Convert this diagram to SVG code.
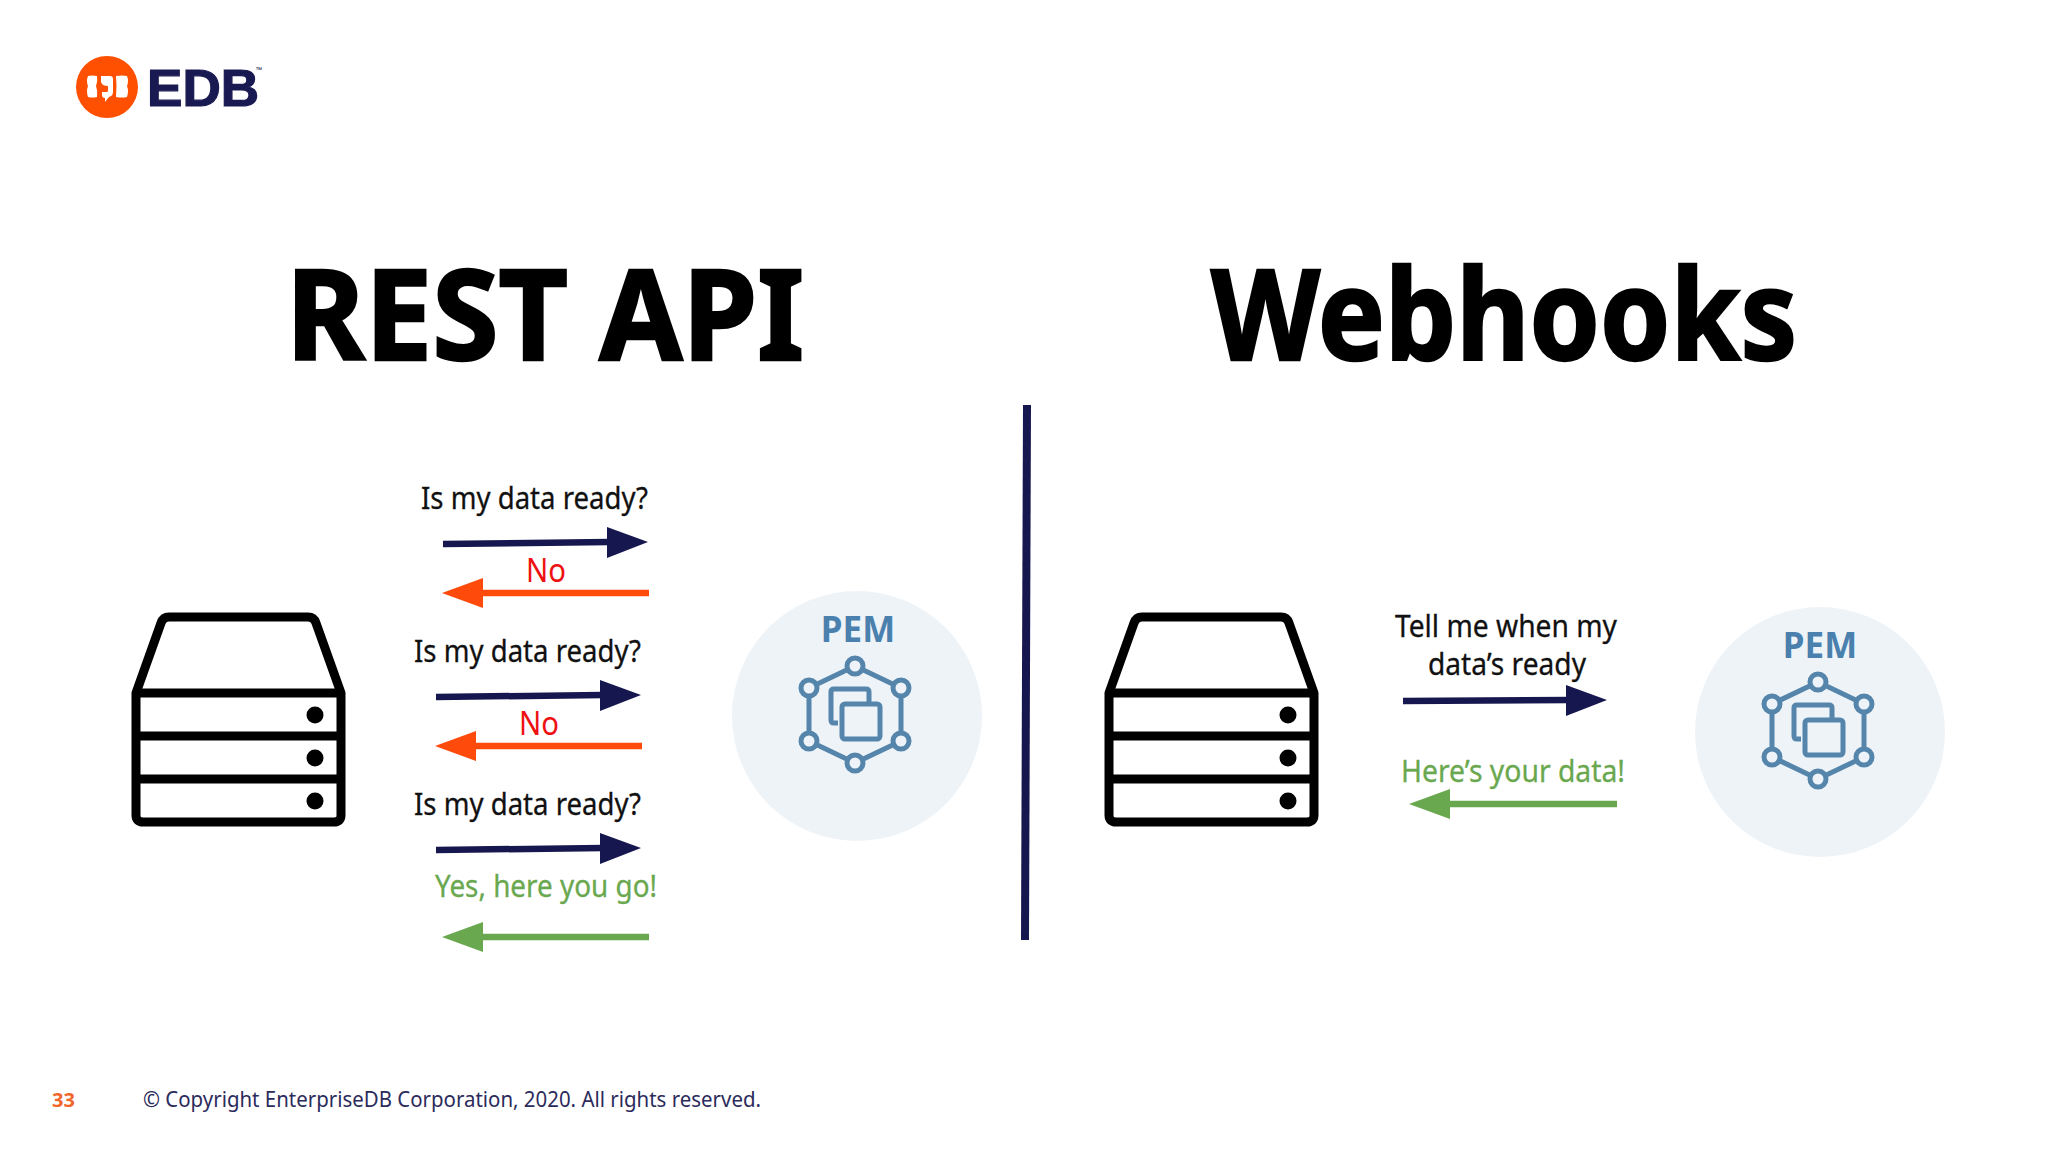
<svg xmlns="http://www.w3.org/2000/svg" xmlns:xlink="http://www.w3.org/1999/xlink" width="2048" height="1152" viewBox="0 0 2048 1152">
<style>
text{font-family:"Noto Sans","Open Sans","Liberation Sans",sans-serif}
.title{font-size:126px;font-weight:700;fill:#000;stroke:#000;stroke-width:2.5}
.lbl{font-size:31px;fill:#111;stroke:#111;stroke-width:.3}
.no{font-size:33px;fill:#ee1111}
.ok{font-size:31px;fill:#6aa84f;stroke:#6aa84f;stroke-width:.3}
.pem{font-size:35px;font-weight:700;fill:#4a80ad;text-anchor:middle}
.foot{font-size:22px;fill:#2b2b5c}
.srv{fill:none;stroke:#000;stroke-width:9;stroke-linejoin:round}
.ic{fill:none;stroke:#5585ab;stroke-width:5;stroke-linejoin:round}
.nd{fill:#edf3f9;stroke:#5585ab;stroke-width:5}
.ln{fill:none;stroke-width:6.5}
.navy{stroke:#17174f}.navyf{fill:#17174f}
.red{stroke:#fe4a0b}.redf{fill:#fe4a0b}
.grn{stroke:#6aa84f}.grnf{fill:#6aa84f}
</style>
<defs>
<g id="server">
<path class="srv" d="M136 693L136 815Q136 822 143 822L334 822Q341 822 341 815L341 693L316 623Q314 617 308 617L169 617Q163 617 161 623Z"/>
<path class="srv" d="M136 693H341M136 736H341M136 779H341"/>
<circle cx="315" cy="715" r="8.5"/><circle cx="315" cy="758" r="8.5"/><circle cx="315" cy="801" r="8.5"/>
</g>
<g id="pemicon">
<circle cx="857" cy="716" r="125" fill="#eef3f8"/>
<path class="ic" d="M855 666L901 688V741L855 763L809 741V688Z"/>
<path class="ic" d="M838 723H834Q831 723 831 720V692Q831 689 834 689H866Q869 689 869 692V704"/>
<rect class="ic" x="842" y="704" width="38" height="35" rx="3"/>
<circle class="nd" cx="855" cy="666" r="8"/><circle class="nd" cx="901" cy="688" r="8"/><circle class="nd" cx="901" cy="741" r="8"/><circle class="nd" cx="855" cy="763" r="8"/><circle class="nd" cx="809" cy="741" r="8"/><circle class="nd" cx="809" cy="688" r="8"/>
</g>
</defs>
<rect width="2048" height="1152" fill="#fff"/>
<g id="logo">
<circle cx="107" cy="87" r="31" fill="#fe5000"/>
<path fill="#fff" d="M88 76q4-1 9 0q1 5-1 10q2 5 1 11q-5 1-9 0q-2-6 0-11q-2-5 0-10Z"/>
<path fill="#fff" d="M101 76h9q3 0 3 3v13q0 4-4 5l-4 5v-4q-3 0-3-3v-3h5q1 0 1-2v-4q-6 0-7-4Z"/>
<path fill="#fff" d="M116 76q6-1 11 0q2 5 0 10q2 5 0 11q-5 1-11 0q1-11 0-21Z"/>
<text x="147" y="106" font-size="52" font-weight="700" fill="#1a1a52" stroke="#1a1a52" stroke-width="1.2" style="font-family:'Liberation Sans',sans-serif" textLength="112" lengthAdjust="spacingAndGlyphs">EDB</text>
<text x="256" y="73" font-size="8" fill="#1a1a52">™</text>
</g>
<text class="title" x="286" y="360" textLength="518" lengthAdjust="spacingAndGlyphs">REST API</text>
<text class="title" x="1211" y="360" textLength="586" lengthAdjust="spacingAndGlyphs">Webhooks</text>
<g id="server-left"><use xlink:href="#server" href="#server"/></g>
<g id="server-right"><use xlink:href="#server" href="#server" x="973"/></g>
<g id="pem-left"><use xlink:href="#pemicon" href="#pemicon"/><text class="pem" x="858" y="642">PEM</text></g>
<g id="pem-right"><use xlink:href="#pemicon" href="#pemicon" x="963" y="16"/><text class="pem" x="1820" y="658">PEM</text></g>
<g id="connectors">
<path class="ln navy" d="M1027 405L1025 940" style="stroke-width:8"/>
<path class="ln navy" d="M443 544L610 542"/><path class="navyf" d="M607 527L648 542L607 558Z"/>
<path class="ln red" d="M649 593H480"/><path class="redf" d="M442 593L483 578V608Z"/>
<path class="ln navy" d="M436 697L603 695"/><path class="navyf" d="M600 680L641 695L600 711Z"/>
<path class="ln red" d="M642 746H473"/><path class="redf" d="M435 746L476 731V761Z"/>
<path class="ln navy" d="M436 850L603 848"/><path class="navyf" d="M600 833L641 848L600 864Z"/>
<path class="ln grn" d="M649 937H480"/><path class="grnf" d="M442 937L483 922V952Z"/>
<path class="ln navy" d="M1403 701L1570 700"/><path class="navyf" d="M1566 685L1607 700L1566 716Z"/>
<path class="ln grn" d="M1617 804H1448"/><path class="grnf" d="M1409 804L1450 789V819Z"/>
</g>
<g id="labels">
<text class="lbl" x="421" y="509" textLength="227" lengthAdjust="spacingAndGlyphs">Is my data ready?</text>
<text class="no" x="526" y="582" textLength="40" lengthAdjust="spacingAndGlyphs">No</text>
<text class="lbl" x="414" y="662" textLength="227" lengthAdjust="spacingAndGlyphs">Is my data ready?</text>
<text class="no" x="519" y="735" textLength="40" lengthAdjust="spacingAndGlyphs">No</text>
<text class="lbl" x="414" y="815" textLength="227" lengthAdjust="spacingAndGlyphs">Is my data ready?</text>
<text class="ok" x="435" y="897" textLength="222" lengthAdjust="spacingAndGlyphs">Yes, here you go!</text>
<text class="lbl" x="1395" y="637" textLength="222" lengthAdjust="spacingAndGlyphs">Tell me when my</text>
<text class="lbl" x="1428" y="675" textLength="158" lengthAdjust="spacingAndGlyphs">data’s ready</text>
<text class="ok" x="1401" y="782" textLength="224" lengthAdjust="spacingAndGlyphs">Here’s your data!</text>
</g>
<g id="footer">
<text x="52" y="1107" font-size="20" font-weight="700" fill="#f1662a" textLength="23" lengthAdjust="spacingAndGlyphs">33</text>
<text class="foot" x="143" y="1107" textLength="618" lengthAdjust="spacingAndGlyphs">© Copyright EnterpriseDB Corporation, 2020. All rights reserved.</text>
</g>
</svg>
